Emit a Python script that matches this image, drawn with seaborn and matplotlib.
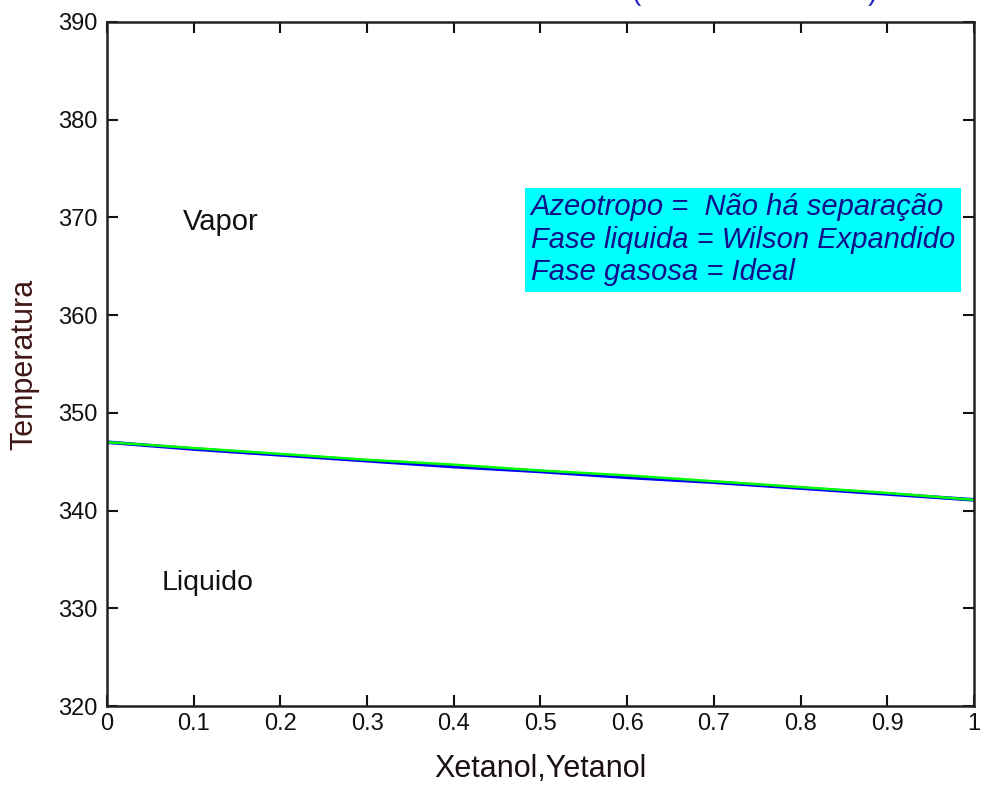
import matplotlib
matplotlib.use("Agg")
import matplotlib.pyplot as plt
import seaborn as sns
import pandas as pd

# Ethanol mole fraction and equilibrium temperatures (K)
x_etanol = [0.0, 0.1, 0.2, 0.3, 0.4, 0.5, 0.6, 0.7, 0.8, 0.9, 1.0]
t_bolha = [347.0, 346.3, 345.7, 345.1, 344.5, 344.0, 343.4, 342.9, 342.3, 341.7, 341.1]
t_orvalho = [347.0, 346.4, 345.8, 345.2, 344.7, 344.1, 343.6, 343.0, 342.4, 341.8, 341.1]

x_ticks = [0, 0.1, 0.2, 0.3, 0.4, 0.5, 0.6, 0.7, 0.8, 0.9, 1]
x_tick_labels = ["0", "0.1", "0.2", "0.3", "0.4", "0.5", "0.6", "0.7", "0.8", "0.9", "1"]
y_ticks = [320, 330, 340, 350, 360, 370, 380, 390]

info_text = "Azeotropo =  Não há separação\nFase liquida = Wilson Expandido\nFase gasosa = Ideal"

sns.set_style("ticks")
plt.rcParams["font.family"] = ["Liberation Sans", "DejaVu Sans"]

df_bolha = pd.DataFrame({"x": x_etanol, "T": t_bolha})
df_orvalho = pd.DataFrame({"x": x_etanol, "T": t_orvalho})

fig = plt.figure(figsize=(9.84, 7.85), dpi=100)
ax = fig.add_axes([0.1087, 0.1006, 0.8811, 0.8714])

sns.lineplot(data=df_bolha, x="x", y="T", ax=ax, color="#0000ff", lw=2.6)
sns.lineplot(data=df_orvalho, x="x", y="T", ax=ax, color="#00ff00", lw=1.8)

ax.set_xlim(0, 1)
ax.set_ylim(320, 390)
ax.set_xticks(x_ticks)
ax.set_xticklabels(x_tick_labels)
ax.set_yticks(y_ticks)
ax.tick_params(axis="both", direction="in", length=8, width=1.5, labelsize=17,
               top=True, right=True, colors="#111111")
ax.tick_params(axis="y", pad=7)
ax.tick_params(axis="x", pad=5)
for s in ax.spines.values():
    s.set_linewidth(1.8)
    s.set_color("#222222")

ax.set_xlabel("Xetanol,Yetanol", fontsize=22, color="#1a1010", labelpad=14)
ax.set_ylabel("Temperatura", fontsize=22, color="#401818", labelpad=13)

ax.text(0.088, 369.5, "Vapor", fontsize=21, color="#111111", va="center", ha="left")
ax.text(0.063, 332.6, "Liquido", fontsize=20.5, color="#111111", va="center", ha="left")

ax.text(0.489, 367.7, info_text, fontsize=21, style="italic", color="#10108a",
        va="center", ha="left", linespacing=1.2,
        bbox=dict(boxstyle="square,pad=0.2", facecolor="#00ffff", edgecolor="none"))

# Title parentheses reaching in from above the figure edge
fig.text(636 / 984, 1.0, "(", fontsize=20, color="#2020c0", ha="center", va="baseline")
fig.text(872 / 984, 1.0, ")", fontsize=20, color="#2020c0", ha="center", va="baseline")

fig.savefig("out.png", dpi=100)
